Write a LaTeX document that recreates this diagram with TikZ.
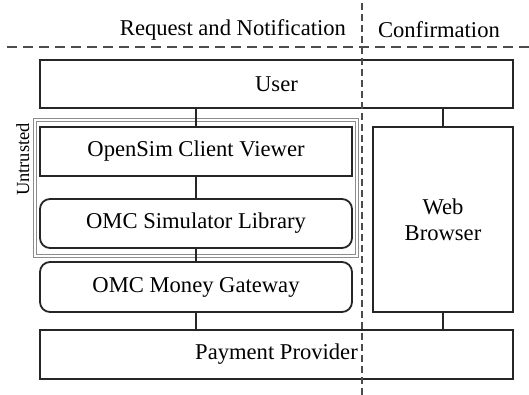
\documentclass[tikz,border=0pt]{standalone}
\usepackage{fontspec}
\setmainfont{Liberation Serif}
\usetikzlibrary{positioning, calc}

\begin{document}
\begin{tikzpicture}[
    x=0.5pt, y=-0.5pt,
    % Component box style
    component/.style={
        rectangle,
        draw=black!85,
        line width=0.9pt,
        minimum width=156pt,
        minimum height=24.5pt,
        inner sep=0pt,
        font=\fontsize{11.3}{13}\selectfont
    },
    % Library box style
    library/.style={
        component,
        rounded corners=5pt
    },
    % Trust boundary style
    boundary/.style={
        rectangle,
        draw=black!45,
        double=white,
        double distance=0.8pt,
        line width=0.4pt,
        minimum width=161pt,
        minimum height=68pt,
        inner sep=0pt
    },
    link/.style={
        line width=0.9pt,
        black!85
    },
    divider/.style={
        line width=0.75pt,
        black!70
    },
    heading/.style={
        font=\fontsize{11.3}{13}\selectfont
    }
]
\useasboundingbox (0,0) rectangle (529,395);

% === Column headings ===
\node[heading, anchor=east] (reqhead) at (353, 30) {Request and Notification};
\node[heading, anchor=west] (confhead) at (371, 30) {Confirmation};

% === Trust boundary ===
\node[boundary] (untrusted) at (196, 188) {};
\node[rotate=90, anchor=south east, inner sep=1pt,
      font=\fontsize{9.25}{11}\selectfont] (untrustedlabel)
      at ($(untrusted.north west)+(-3,1)$) {Untrusted};

% === Components ===
\node[component, minimum width=236.5pt, minimum height=24pt] (user) at (276.5, 84) {User};
\node[component] (viewer) at (196, 151.5) {OpenSim Client Viewer};
\node[library] (simlib) at (196, 223.5) {OMC Simulator Library};
\node[library, minimum height=25pt] (gateway) at (196, 287) {OMC Money Gateway};
\node[component, minimum width=236.5pt] (provider) at (276.5, 354.5) {Payment Provider};
\node[component, minimum width=70pt, minimum height=92.5pt, align=center] (browser) at (443, 219.5) {Web\\Browser};

% === Links ===
\draw[link] (user.south -| viewer.north) -- (viewer.north);
\draw[link] (viewer.south) -- (simlib.north);
\draw[link] (simlib.south) -- (gateway.north);
\draw[link] (gateway.south) -- (gateway.south |- provider.north);
\draw[link] (user.south -| browser.north) -- (browser.north);
\draw[link] (browser.south) -- (browser.south |- provider.north);

% === Dividers ===
\draw[divider, dash pattern=on 5pt off 3pt] (7, 47) -- (529, 47);
\draw[divider, dash pattern=on 3.5pt off 2pt] (362, 3) -- (362, 395);

\end{tikzpicture}
\end{document}
